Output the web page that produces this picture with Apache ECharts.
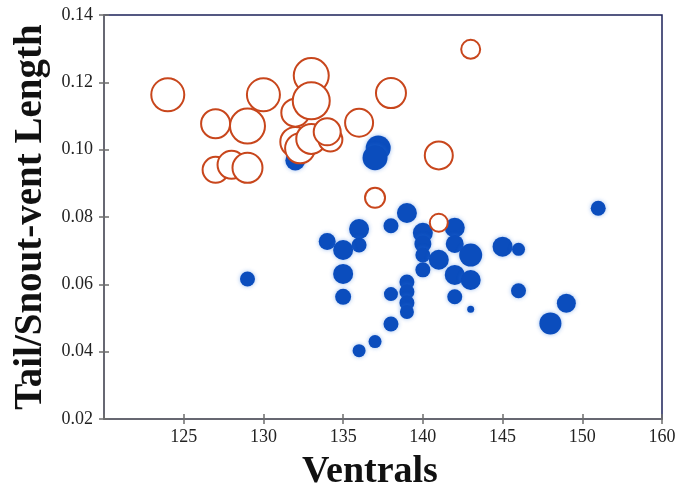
<!DOCTYPE html>
<html>
<head>
<meta charset="utf-8">
<script src="https://cdn.jsdelivr.net/npm/echarts@6/dist/echarts.min.js"></script>
<style>
html, body { margin: 0; padding: 0; background: #fff; }
#chart { width: 692px; height: 496px; }
</style>
</head>
<body>
<div id="chart"></div>
<script>
// [ventrals, tail/snout-vent ratio, bubble size]
var orangeData = [
    [124, 0.1163, 33], [127, 0.1077, 29], [129, 0.1070, 35], [130, 0.1163, 33],
    [127, 0.0940, 26], [128, 0.0955, 28], [129, 0.0946, 30],
    [132, 0.1110, 28], [133, 0.1220, 35], [133, 0.1145, 37],
    [132, 0.1023, 30], [132.3, 0.1004, 30], [133, 0.1032, 30],
    [134.2, 0.1030, 24], [134, 0.1053, 27], [136, 0.1080, 28],
    [138, 0.1168, 30], [141, 0.0983, 28], [143, 0.1298, 19],
    [137, 0.0857, 20], [141, 0.0783, 18]
];
var blueData = [
    [129, 0.0616, 15], [132, 0.0968, 20], [137.2, 0.1005, 25], [137, 0.0976, 25],
    [134, 0.0727, 17], [136, 0.0764, 20], [136, 0.0717, 15], [135, 0.0702, 20],
    [135, 0.0631, 20], [135, 0.0563, 16], [138, 0.0774, 15], [139, 0.0812, 20],
    [140, 0.0753, 20], [140, 0.0720, 17], [140, 0.0687, 15], [140, 0.0643, 15],
    [141, 0.0673, 20], [142, 0.0768, 20], [142, 0.0720, 18], [143, 0.0687, 23],
    [142, 0.0628, 20], [143, 0.0613, 20], [142, 0.0563, 15], [143, 0.0526, 7],
    [138, 0.0571, 14], [139, 0.0607, 15], [139, 0.0578, 15], [139, 0.0545, 15],
    [139, 0.0518, 14], [138, 0.0482, 15], [137, 0.0430, 13], [136, 0.0403, 13],
    [145, 0.0712, 20], [146, 0.0704, 13], [146, 0.0581, 15], [149, 0.0544, 19],
    [148, 0.0484, 22], [151, 0.0826, 15]
];
// tick values along the x axis and the labels printed under them
// (the original figure prints "160" at the last tick)
var xTicks = [120, 125, 130, 135, 140, 145, 150, 155];
var xTickLabels = ['', '125', '130', '135', '140', '145', '150', '160'];
var xName = 'Ventrals';
var yName = 'Tail/Snout-vent Length';

var chart = echarts.init(document.getElementById('chart'));
var serif = '"Liberation Serif", "DejaVu Serif", serif';
var axisGray = '#6e6e6e';

function xLabel(v) {
    var i = xTicks.indexOf(v);
    return i >= 0 ? xTickLabels[i] : '';
}

chart.setOption({
    animation: false,
    grid: {
        left: 104, right: 30, top: 15, bottom: 77,
        show: true, borderColor: '#1c2259', borderWidth: 1.5, backgroundColor: '#fff'
    },
    xAxis: [{
        type: 'value', min: xTicks[0], max: xTicks[xTicks.length - 1], interval: 5, position: 'bottom',
        name: xName, nameLocation: 'middle', nameGap: 34,
        nameTextStyle: {
            fontFamily: serif, fontWeight: 'bold', fontSize: 38, color: '#111',
            padding: [0, 26, 0, 0]
        },
        axisLine: { show: true, lineStyle: { color: axisGray, width: 1.5 } },
        axisTick: { show: true, length: 5, lineStyle: { color: axisGray, width: 1.5 } },
        axisLabel: { showMinLabel: false, fontFamily: serif, fontSize: 18, color: '#222', margin: 9, formatter: xLabel },
        splitLine: { show: false }
    }, {
        type: 'value', min: xTicks[0], max: xTicks[xTicks.length - 1], interval: 5, position: 'bottom',
        axisLine: { show: false },
        axisTick: { show: true, inside: true, length: 5, lineStyle: { color: axisGray, width: 1.5 } },
        axisLabel: { show: false },
        splitLine: { show: false }
    }],
    yAxis: [{
        type: 'value', min: 0.02, max: 0.14, interval: 0.02, position: 'left',
        name: yName, nameLocation: 'middle', nameGap: 52,
        nameTextStyle: { fontFamily: serif, fontWeight: 'bold', fontSize: 39, color: '#111' },
        axisLine: { show: true, lineStyle: { color: axisGray, width: 1.5 } },
        axisTick: { show: true, length: 5, lineStyle: { color: axisGray, width: 1.5 } },
        axisLabel: {
            fontFamily: serif, fontSize: 18, color: '#222', margin: 11,
            formatter: function (v) { return v.toFixed(2); }
        },
        splitLine: { show: false }
    }, {
        type: 'value', min: 0.02, max: 0.14, interval: 0.02, position: 'left',
        axisLine: { show: false },
        axisTick: { show: true, inside: true, length: 5, lineStyle: { color: axisGray, width: 1.5 } },
        axisLabel: { show: false },
        splitLine: { show: false }
    }],
    series: [{
        type: 'scatter',
        data: blueData,
        symbolSize: function (d) { return d[2]; },
        itemStyle: {
            color: '#0b4dbd', opacity: 1,
            shadowBlur: 4, shadowColor: 'rgba(40,110,220,0.45)'
        },
        z: 2
    }, {
        type: 'scatter',
        data: orangeData,
        symbolSize: function (d) { return d[2]; },
        itemStyle: { color: '#ffffff', borderColor: '#c8461c', borderWidth: 2, opacity: 1 },
        z: 3
    }]
});
</script>
</body>
</html>
